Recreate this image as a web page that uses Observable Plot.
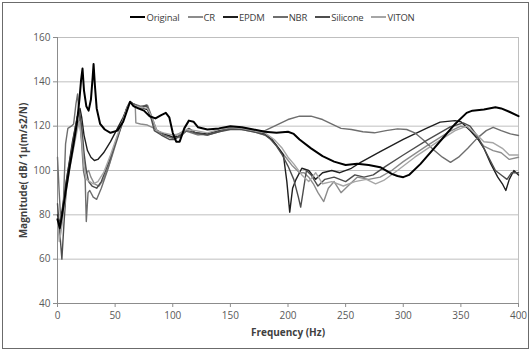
<!DOCTYPE html>
<html>
<head>
<meta charset="utf-8">
<script src="https://cdn.jsdelivr.net/npm/d3@7"></script>
<script src="https://cdn.jsdelivr.net/npm/@observablehq/plot@0.6"></script>
<style>
  html, body { margin: 0; padding: 0; background: #fff; }
  #frame { position: absolute; left: 2px; top: 2px; width: 525px; height: 345px; border: 1px solid #6b6b6b; background: #fff; overflow: hidden; }
  #legend { height: 24px; display: flex; justify-content: center; align-items: center; gap: 8px; font-family: "Open Sans", sans-serif; font-size: 9.5px; color: #404040; padding-top: 4px; box-sizing: border-box; padding-left: 14px; letter-spacing: -0.2px; }
  .item { display: flex; align-items: center; }
  .sw { display: inline-block; width: 15px; height: 2px; margin-right: 1px; }
  svg [aria-label="x-axis label"], svg [aria-label="y-axis label"] { font-weight: bold; fill: #404040; }
</style>
</head>
<body>
<div id="frame"><div id="legend"></div><div id="chart"></div></div>
<script>
const seriesNames = ["Original", "CR", "EPDM", "NBR", "Silicone", "VITON"];
const xTicks = [0, 50, 100, 150, 200, 250, 300, 350, 400];
const yTicks = [40, 60, 80, 100, 120, 140, 160];

const original = [[0,78],[2,74],[4,80],[7,90],[10,100],[14,112],[17,122],[19,132],[20.5,141],[21.7,146],[23,136],[25,129],[27,127],[29,132],[30.5,142],[31.3,148],[32.5,138],[34,128],[37,121],[41,118.5],[46,117],[52,118],[57,122],[61,128],[63,131],[66,129],[70,128],[75,127],[80,124.5],[85,123.5],[90,125],[94,126],[97,124],[100,117],[103,113],[106,113],[110,119],[114,122.5],[118,122],[122,119.5],[130,118.5],[140,119],[150,120],[160,119.5],[170,118.5],[180,117.5],[190,117],[200,117.5],[205,116.5],[210,114],[220,110],[230,106.5],[240,104],[250,102.5],[260,103],[270,102.5],[280,101.5],[290,98.5],[295,97.5],[300,97],[305,98],[315,103],[325,109],[335,115],[345,121],[355,126],[360,127],[370,127.5],[380,128.5],[385,128],[392,126.5],[400,124.5]];

const cr = [[0,80],[2,72],[4,78],[6,90],[9,100],[12,108],[15,115],[17,120],[19,123],[21,118],[23,105],[25,99],[27,100],[29,97],[32,94],[36,93],[40,96],[45,103],[50,112],[55,120],[60,128],[63,131],[66,129],[67.5,128.5],[68,121.5],[72,121],[78,120.5],[84,119],[90,117],[96,116],[100,115],[105,116.5],[110,118],[116,117],[122,116],[130,116.5],[140,118],[150,119],[160,118.5],[170,117.5],[180,116],[186,114],[192,110],[198,106],[204,102],[210,99],[214,99],[218,97],[222,94],[226,90],[231,86],[235,92],[240,95],[246,90],[252,93],[260,97],[270,96],[280,97],[290,100],[300,104],[320,111],[340,117.5],[350,120],[356,119.5],[362,116],[370,111],[378,109],[385,108],[392,105],[400,106]];

const epdm = [[0,80],[2,76],[4,82],[7,93],[10,103],[13,113],[16,121],[18,126],[19.5,128],[21,124],[23,116],[26,109],[29,106],[32,104.5],[35,105],[40,108],[46,113],[52,119],[57,124],[61,129],[63,131],[66,130],[72,128.5],[78,127.5],[82,123],[86,118],[92,116.5],[100,115],[106,115.5],[112,118],[120,117],[130,116.5],[140,118],[150,119],[160,119],[170,118],[180,116.5],[186,114],[192,110],[196,107],[199,95],[201.5,81.2],[204,92],[207,96],[212,101],[218,100],[224,96],[230,99],[238,100],[245,99],[255,101],[263,103.7],[280,108.5],[300,114],[320,119],[332,121.8],[345,122.5],[350,122],[358,118],[365,114],[370,110],[376,103],[382,97],[386,94],[389,91],[392,96],[396,100],[400,98]];

const nbr = [[0,106],[1.5,90],[3,76],[5,84],[7,112],[9,119],[12,120],[14,121],[16,130],[17.4,134.5],[19,124],[21,112],[22.5,100],[24,96],[25,77],[26.5,90],[28,91],[31,88],[34,87],[38,92],[44,101],[50,111],[56,121],[60,128],[63,131],[66,130],[72,129],[78,129.5],[82,124],[86,118],[92,116],[100,114.5],[106,115],[112,118],[120,116.5],[130,116],[140,117.5],[150,119],[165,118.5],[175,117.5],[180,118],[190,120.5],[200,123],[210,124.5],[220,124.5],[230,123],[240,120.5],[246,119],[255,118.5],[265,117.5],[275,117],[285,118],[295,118.8],[303,118.5],[310,117],[318,113.5],[326,109.5],[334,106],[341,103.7],[348,106],[356,110],[364,114.5],[372,118],[378,119.5],[385,118],[393,116.5],[400,115.8]];

const silicone = [[0,85],[2,72],[3.8,60],[5.5,75],[8,95],[11,105],[14,115],[17,124],[19,127],[21,120],[23,108],[25,100],[27,95],[30,93],[34,92],[38,95],[44,103],[50,112],[56,121],[60,128],[63,131],[67,129.5],[72,128],[77,129.5],[80,126],[84,118],[90,116],[97,114],[102,114],[108,117],[114,119],[120,117],[130,116],[140,117.5],[150,118.5],[160,118.5],[170,117.5],[180,116],[185,114],[190,111],[195,107],[200,102],[205,96],[209,88],[211,83.5],[213,90],[216,100],[220,98],[226,93],[232,96],[240,97],[250,95],[258,98],[266,97],[274,98],[285,102],[300,107],[320,113.5],[340,119.5],[352,121.5],[358,120],[365,115],[372,108],[380,100],[385,98],[390,96],[394,99],[400,99]];

const viton = [[0,78],[1.5,68],[3,72],[5,80],[8,92],[11,102],[14,110],[17,118],[19,122],[21,114],[23,102],[25,96],[28,95],[31,94],[35,95],[40,99],[46,107],[52,116],[57,123],[61,129],[63,131],[66,129.5],[72,128.5],[78,128],[82,124],[86,118],[92,117],[100,116],[106,116.5],[112,118.5],[120,118],[130,117],[140,118.5],[150,119.5],[160,119],[170,118],[180,117],[188,114],[195,110],[200,106],[205,103],[212,98],[218,95],[224,99],[230,94],[238,95],[248,93],[258,95],[268,96],[276,94],[283,95.5],[295,100],[310,106],[330,113],[345,118],[355,120],[362,117],[370,113],[378,112.5],[386,110],[392,107],[400,107]];

const seriesData = [original, cr, epdm, nbr, silicone, viton];
const seriesColors = ["#000000", "#8c8c8c", "#1f1f1f", "#6e6e6e", "#4d4d4d", "#a6a6a6"];

const rows = seriesNames.flatMap((name, i) => seriesData[i].map(([f, m]) => ({series: name, freq: f, mag: m})));
const others = rows.filter(d => d.series !== "Original");
const orig = rows.filter(d => d.series === "Original");

const legend = document.getElementById("legend");
seriesNames.forEach((name, i) => {
  const it = document.createElement("span");
  it.className = "item";
  const sw = document.createElement("span");
  sw.className = "sw";
  sw.style.background = seriesColors[i];
  if (name === "Original") sw.style.height = "2.5px";
  it.appendChild(sw);
  it.appendChild(document.createTextNode(name));
  legend.appendChild(it);
});

const chart = Plot.plot({
  width: 525,
  height: 321,
  marginLeft: 54,
  marginRight: 10,
  marginTop: 10,
  marginBottom: 45,
  style: {fontFamily: "'Open Sans', sans-serif", fontSize: "10px", color: "#595959", background: "white", overflow: "visible"},
  x: {domain: [0, 400]},
  y: {domain: [40, 160]},
  color: {domain: seriesNames, range: seriesColors},
  marks: [
    Plot.gridY(yTicks, {stroke: "#bfbfbf", strokeOpacity: 1}),
    Plot.ruleX([400], {stroke: "#bfbfbf"}),
    Plot.ruleY([40], {stroke: "#8c8c8c"}),
    Plot.ruleX([0], {stroke: "#8c8c8c"}),
    Plot.axisX({ticks: xTicks, tickSize: 4, tickPadding: 4, stroke: "#8c8c8c", fill: "#595959", label: "Frequency (Hz)", labelAnchor: "center", labelArrow: "none", labelOffset: 32}),
    Plot.axisY({ticks: yTicks, tickSize: 4, tickPadding: 3, stroke: "#8c8c8c", fill: "#595959", label: "Magnitude( dB/ 1µ(m/s2/N)", labelAnchor: "center", labelArrow: "none", labelOffset: 38}),
    Plot.line(others, {x: "freq", y: "mag", z: "series", stroke: "series", strokeWidth: 1.4}),
    Plot.line(orig, {x: "freq", y: "mag", z: "series", stroke: "series", strokeWidth: 2})
  ]
});
document.getElementById("chart").appendChild(chart);
</script>
</body>
</html>
